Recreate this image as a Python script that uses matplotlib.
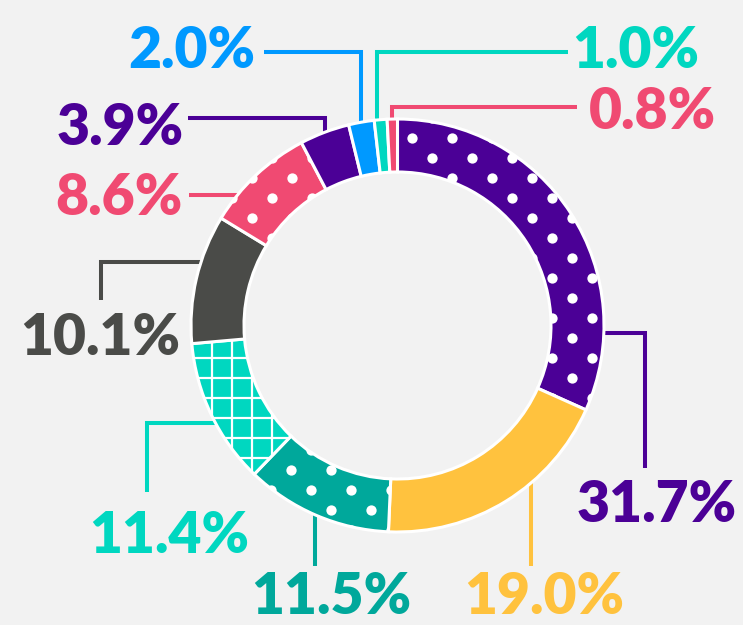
import numpy as np
import matplotlib.pyplot as plt
from matplotlib.collections import LineCollection

# slice shares, clockwise from 12 o'clock
shares = [31.7, 19.0, 11.5, 11.4, 10.1, 8.6, 3.9, 2.0, 1.0, 0.8]
labels = ['31.7%', '19.0%', '11.5%', '11.4%', '10.1%', '8.6%', '3.9%', '2.0%', '1.0%', '0.8%']
colors = ['#4b0096', '#ffc23e', '#00a89b', '#00d7c0', '#4a4b48',
          '#f04a72', '#4b0096', '#0099ff', '#00d7c0', '#f04a72']
fills = ['dots', 'plain', 'dots', 'grid', 'plain', 'dots', 'plain', 'plain', 'plain', 'plain']

W, H = 743, 625
BG = '#f2f2f2'

# label layout in image pixels: (x, baseline y, ha)
label_pos = [(657, 522, 'center'), (544, 614, 'center'), (331, 614, 'center'),
             (169, 553, 'center'), (100, 355, 'center'), (183, 215, 'right'),
             (184, 145, 'right'), (255, 68, 'right'), (572, 68, 'left'),
             (589, 129, 'left')]
# leader lines in image pixels
leaders = [
    [(598, 333), (645, 333), (645, 468)],
    [(531, 470), (531, 566)],
    [(315, 505), (315, 566)],
    [(220, 423), (147, 423), (147, 492)],
    [(205, 262), (101, 262), (101, 300)],
    [(189, 195), (245, 195)],
    [(188, 118), (325, 118), (325, 140)],
    [(264, 52), (361, 52), (361, 128)],
    [(377, 128), (377, 52), (568, 52)],
    [(392, 128), (392, 107), (577, 107)],
]


def img(pts):
    return [(x, H - y) for x, y in pts]


fig = plt.figure(figsize=(7.43, 6.25), dpi=100, facecolor=BG)
ax = fig.add_axes([0, 0, 1, 1])
ax.set_facecolor(BG)

cx, cy = 397.5, H - 325.5
r_out, ring = 206.5, 53

wedges, _ = ax.pie(shares, colors=colors, startangle=90, counterclock=False,
                   radius=r_out, center=(cx, cy), frame=True,
                   wedgeprops=dict(width=ring, edgecolor='white', linewidth=2.2))
for w in wedges:
    w.set_zorder(2)

ax.set_xlim(0, W)
ax.set_ylim(0, H)
ax.set_aspect('equal')
ax.axis('off')


# white dot pattern (staggered grid)
def dots(wedge, x0, y0):
    xs, ys = [], []
    for k in range(-40, 40):
        yi = y0 + 20 * k
        for m in range(-25, 25):
            xs.append(x0 + 20 * (k % 2) + 40 * m)
            ys.append(H - yi)
    sc = ax.scatter(xs, ys, s=55, c='white', linewidths=0, zorder=3)
    sc.set_clip_path(wedge)


dot_anchor = {0: (411.7, 138.3), 2: (291, 470), 5: (411.7, 138.3)}
for i, f in enumerate(fills):
    if f == 'dots':
        dots(wedges[i], *dot_anchor[i])
    elif f == 'grid':
        segs = []
        for x in np.arange(211.7 - 400, W, 20):
            segs.append([(x, 0), (x, H)])
        for y in np.arange(358 - 400, H, 20):
            segs.append([(0, H - y), (W, H - y)])
        lc = LineCollection(segs, colors='white', linewidths=1.6, zorder=3)
        ax.add_collection(lc)
        lc.set_clip_path(wedges[i])

# leader lines and labels
for pts, lab, col, (lx, ly, ha) in zip(leaders, labels, colors, label_pos):
    p = np.array(img(pts))
    ax.plot(p[:, 0], p[:, 1], color=col, lw=2.9, zorder=1,
            solid_capstyle='butt', solid_joinstyle='miter')
    ax.text(lx, H - ly, lab, color=col, fontsize=41, fontweight='heavy',
            family='Lato', ha=ha, va='baseline', zorder=4)

plt.savefig('out.png', dpi=100, facecolor=BG)
